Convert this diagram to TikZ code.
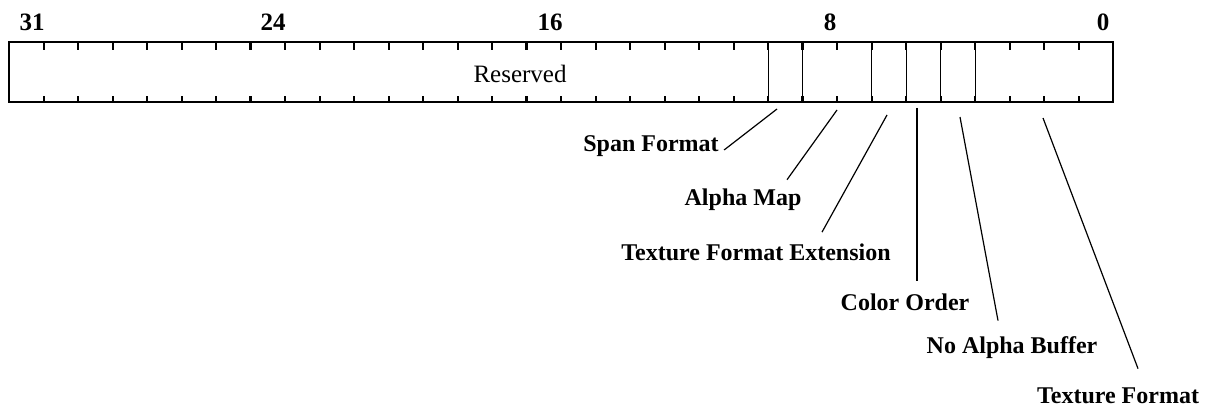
\documentclass[tikz,border=0pt]{standalone}
\usepackage{fontspec}
\setmainfont{Liberation Serif}
\usetikzlibrary{positioning}

\begin{document}
\begin{tikzpicture}[
  x=0.5pt, y=-0.5pt,
  bitno/.style={font=\fontsize{12.5}{14}\selectfont\bfseries, inner sep=0pt},
  fieldname/.style={font=\fontsize{12}{14}\selectfont\bfseries, inner sep=0pt},
  regline/.style={line width=1pt},
  divider/.style={line width=0.45pt},
  smalltick/.style={line width=1pt},
  bytetick/.style={line width=1.8pt},
  leader/.style={line width=0.6pt}
]
\useasboundingbox (0,0) rectangle (1213,406);

% register outline and bit ticks
\draw[regline] (9,42) rectangle (1113,102);
\foreach \k in {1,...,31} {
  \draw[smalltick] (9+\k*34.5,42) -- ++(0,8);
  \draw[smalltick] (9+\k*34.5,102) -- ++(0,-6);
}
\foreach \k in {7,15,23} {
  \draw[bytetick] (9+\k*34.5,42) -- ++(0,8);
  \draw[bytetick] (9+\k*34.5,102) -- ++(0,-6);
}
\foreach \k in {22,23,25,26,27,28}
  \draw[divider] (9+\k*34.5,42) -- (9+\k*34.5,102);

% bit numbers
\node[bitno] (b31) at (32,22)   {31};
\node[bitno] (b24) at (273,22)  {24};
\node[bitno] (b16) at (550,22)  {16};
\node[bitno] (b8)  at (830,22)  {8};
\node[bitno] (b0)  at (1103,22) {0};

\node[font=\fontsize{12.5}{14}\selectfont, inner sep=0pt] (rsv) at (520,74) {Reserved};

% field names
\node[fieldname] (spanfmt) at (651,146)  {Span Format};
\node[fieldname] (amap)    at (743,200)  {Alpha Map};
\node[fieldname] (tfext)   at (756,252)  {Texture Format Extension};
\node[fieldname] (corder)  at (905,302)  {Color Order};
\node[fieldname] (noab)    at (1012,348) {No Alpha Buffer};
\node[fieldname] (texfmt)  at (1118,396) {Texture Format};

\coordinate (spanfmt-bit) at (777,109);
\coordinate (amap-bit)    at (837,110);
\coordinate (tfext-bit)   at (887,115);
\coordinate (corder-bit)  at (917,108);
\coordinate (noab-bit)    at (960,117);
\coordinate (texfmt-bit)  at (1043,118);

\draw[leader] (spanfmt-bit) -- ([shift={(5,4)}]spanfmt.east);
\draw[leader] (amap-bit)    -- ([shift={(44,-9)}]amap.north);
\draw[leader] (tfext-bit)   -- ([shift={(66,-11)}]tfext.north);
\draw[leader] (corder-bit)  -- ([shift={(12,-12)}]corder.north);
\draw[leader] (noab-bit)    -- ([shift={(-14,-16)}]noab.north);
\draw[leader] (texfmt-bit)  -- ([shift={(20,-19)}]texfmt.north);
\end{tikzpicture}
\end{document}
